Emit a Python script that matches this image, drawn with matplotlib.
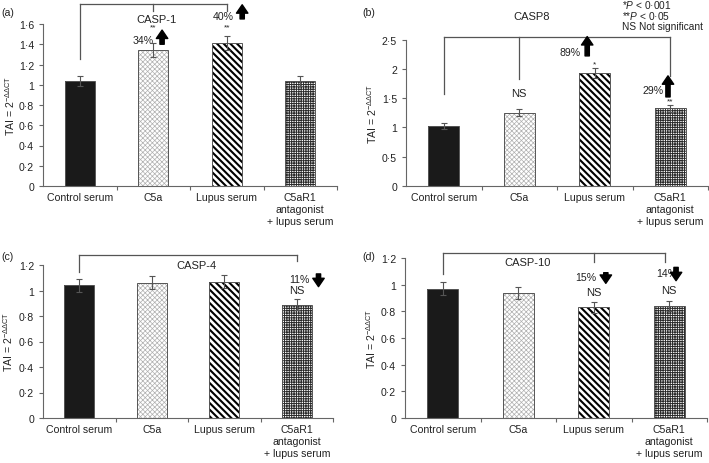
import numpy as np
import matplotlib
matplotlib.use("Agg")
from matplotlib import pyplot as plt
from matplotlib.ticker import FuncFormatter, FixedLocator

plt.rcParams['font.family'] = ['Liberation Sans', 'DejaVu Sans']
plt.rcParams['mathtext.fontset'] = 'custom'
plt.rcParams['mathtext.rm'] = 'Liberation Sans'
plt.rcParams['mathtext.it'] = 'Liberation Sans:italic'

# data
groups = ['Control serum', 'C5a', 'Lupus serum', 'C5aR1\nantagonist\n+ lupus serum']
casp1 = [1.04, 1.34, 1.41, 1.04]
casp1_err = [0.05, 0.07, 0.07, 0.05]
casp8 = [1.02, 1.25, 1.93, 1.33]
casp8_err = [0.05, 0.06, 0.09, 0.06]
casp4 = [1.04, 1.06, 1.07, 0.89]
casp4_err = [0.05, 0.05, 0.05, 0.04]
casp10 = [0.97, 0.94, 0.83, 0.84]
casp10_err = [0.05, 0.045, 0.04, 0.04]

W, H = 709, 464
fig = plt.figure(figsize=(W / 100, H / 100), dpi=100)

txt = '#222222'
axc = '#666666'
fs = 7.6

# bar looks: face, hatch, hatch colour, hatch linewidth
styles = [
    ('#1a1a1a', None, None, 0),
    ('white', 'x' * 7, '#b0b0b0', 0.5),
    ('white', '\\' * 5, 'black', 1.5),
    ('white', '+' * 7, '#2a2a2a', 0.7),
]


def make_ax(x0, x1, py0, scale, ytop):
    # place axes from pixel positions of the y=0 line and the scale
    h = ytop * scale
    return fig.add_axes([x0 / W, (H - py0) / H, (x1 - x0) / W, h / H])


def bars(ax, vals, errs, tick_top, tick_step, ytop):
    x = np.arange(len(vals))
    w = 0.41
    for i, (fc, hatch, hc, hlw) in enumerate(styles):
        if hatch:
            plt.rcParams['hatch.linewidth'] = hlw
            b = ax.bar(x[i], vals[i], w, color=fc, hatch=hatch,
                       edgecolor=hc, linewidth=0, zorder=2)
            for p in b:
                try:
                    p.set_hatch_linewidth(hlw)
                except AttributeError:
                    pass
        else:
            ax.bar(x[i], vals[i], w, color=fc, linewidth=0, zorder=2)
        ax.bar(x[i], vals[i], w, fill=False, edgecolor='#555555', linewidth=0.7, zorder=3)
    ax.errorbar(x, vals, yerr=errs, fmt='none', ecolor='#555555', elinewidth=0.8,
                capsize=2, capthick=0.8, zorder=4)

    ax.set_xlim(-0.5, 3.5)
    ax.set_ylim(0, ytop)
    for s in ['top', 'right']:
        ax.spines[s].set_visible(False)
    ax.spines['left'].set_bounds(0, tick_top)
    for s in ['left', 'bottom']:
        ax.spines[s].set_color(axc)
        ax.spines[s].set_linewidth(0.8)
    ax.set_yticks(np.arange(0, tick_top + 1e-9, tick_step))
    ax.yaxis.set_major_formatter(FuncFormatter(lambda v, p: ('%g' % round(v, 2)).replace('.', '·')))
    ax.xaxis.set_major_locator(FixedLocator([0.5, 1.5, 2.5, 3.5]))
    ax.xaxis.set_major_formatter(FuncFormatter(lambda v, p: ''))
    ax.set_xticks(x, minor=True)
    ax.set_xticklabels(groups, minor=True, fontsize=fs, color=txt, linespacing=1.25)
    ax.tick_params(axis='x', which='minor', length=0, pad=4)
    ax.tick_params(axis='both', which='major', length=3, width=0.8, color=axc,
                   labelsize=fs, labelcolor=txt)
    ax.set_ylabel('TAI = 2$^{\\mathrm{-ΔΔCT}}$', fontsize=fs, color=txt)
    return x


def bracket(ax, xs, y, legs):
    ax.plot([xs[0], xs[-1]], [y, y], color='#555555', lw=0.9, clip_on=False)
    for xx, yb in zip(xs, legs):
        ax.plot([xx, xx], [y, yb], color='#555555', lw=0.9, clip_on=False)


def arrow(ax, x, y_from, y_to):
    ax.annotate('', xy=(x, y_to), xytext=(x, y_from), annotation_clip=False,
                arrowprops=dict(arrowstyle='simple,head_length=0.55,head_width=0.75,tail_width=0.28',
                                color='black', mutation_scale=11, shrinkA=0, shrinkB=0))


def label(ax, x, y, s, size=fs, **kw):
    ax.text(x, y, s, ha='center', va='center', fontsize=size, color=txt, **kw)


# (a) CASP-1
ax = make_ax(43, 337, 187, 101.25, 1.85)
bars(ax, casp1, casp1_err, 1.6, 0.2, 1.85)
ax.yaxis.set_label_coords(-0.09, 0.8 / 1.85)
bracket(ax, [0, 1, 2], 1.80, [1.25, 1.73, 1.73])
label(ax, 1.04, 1.65, 'CASP-1', size=8)
label(ax, 1, 1.575, '**', size=6)
label(ax, 0.86, 1.44, '34%')
arrow(ax, 1.12, 1.40, 1.54)
label(ax, 2, 1.575, '**', size=6)
label(ax, 1.95, 1.68, '40%')
arrow(ax, 2.21, 1.65, 1.79)

# (b) CASP8
ax = make_ax(406, 708, 187, 58.6, 2.6)
bars(ax, casp8, casp8_err, 2.5, 0.5, 2.6)
ax.yaxis.set_label_coords(-0.09, 1.25 / 2.6)
bracket(ax, [0, 1, 3], 2.54, [1.57, 1.83, 1.88])
label(ax, 1.17, 2.90, 'CASP8', size=8)
label(ax, 1, 1.58, 'NS', size=8)
label(ax, 1.67, 2.29, '89%')
arrow(ax, 1.9, 2.22, 2.55)
label(ax, 2, 2.09, '*', size=6)
label(ax, 2.77, 1.64, '29%')
arrow(ax, 2.97, 1.52, 1.88)
label(ax, 3, 1.45, '**', size=6)

fig.text(622 / W, 1 - 5 / H, '*$\\mathit{P}$ < 0·001', fontsize=7.3, color=txt, va='center')
fig.text(622 / W, 1 - 15.5 / H, '**$\\mathit{P}$ < 0·05', fontsize=7.3, color=txt, va='center')
fig.text(622 / W, 1 - 26.5 / H, 'NS Not significant', fontsize=7.3, color=txt, va='center')

# (c) CASP-4
ax = make_ax(43, 333, 419, 127.5, 1.3)
bars(ax, casp4, casp4_err, 1.2, 0.2, 1.3)
ax.yaxis.set_label_coords(-0.095, 0.6 / 1.3)
bracket(ax, [0, 3], 1.28, [1.145, 1.23])
label(ax, 1.62, 1.20, 'CASP-4', size=8)
label(ax, 3.04, 1.09, '11%')
arrow(ax, 3.3, 1.13, 1.03)
label(ax, 3, 1.00, 'NS', size=8)

# (d) CASP-10
ax = make_ax(405, 707, 419, 133.3, 1.3)
bars(ax, casp10, casp10_err, 1.2, 0.2, 1.3)
ax.yaxis.set_label_coords(-0.09, 0.6 / 1.3)
bracket(ax, [0, 2, 2.95], 1.24, [1.08, 1.17, 1.17])
label(ax, 1.12, 1.17, 'CASP-10', size=8)
label(ax, 1.9, 1.06, '15%')
arrow(ax, 2.16, 1.09, 1.01)
label(ax, 2, 0.945, 'NS', size=8)
label(ax, 2.97, 1.09, '14%')
arrow(ax, 3.09, 1.13, 1.03)
label(ax, 3, 0.96, 'NS', size=8)

# panel letters
for s, px, py in [('(a)', 8, 13), ('(b)', 369, 13), ('(c)', 8, 257), ('(d)', 369, 257)]:
    fig.text(px / W, 1 - py / H, s, fontsize=fs, color=txt, ha='center', va='center')

plt.savefig("out.png", dpi=100)
